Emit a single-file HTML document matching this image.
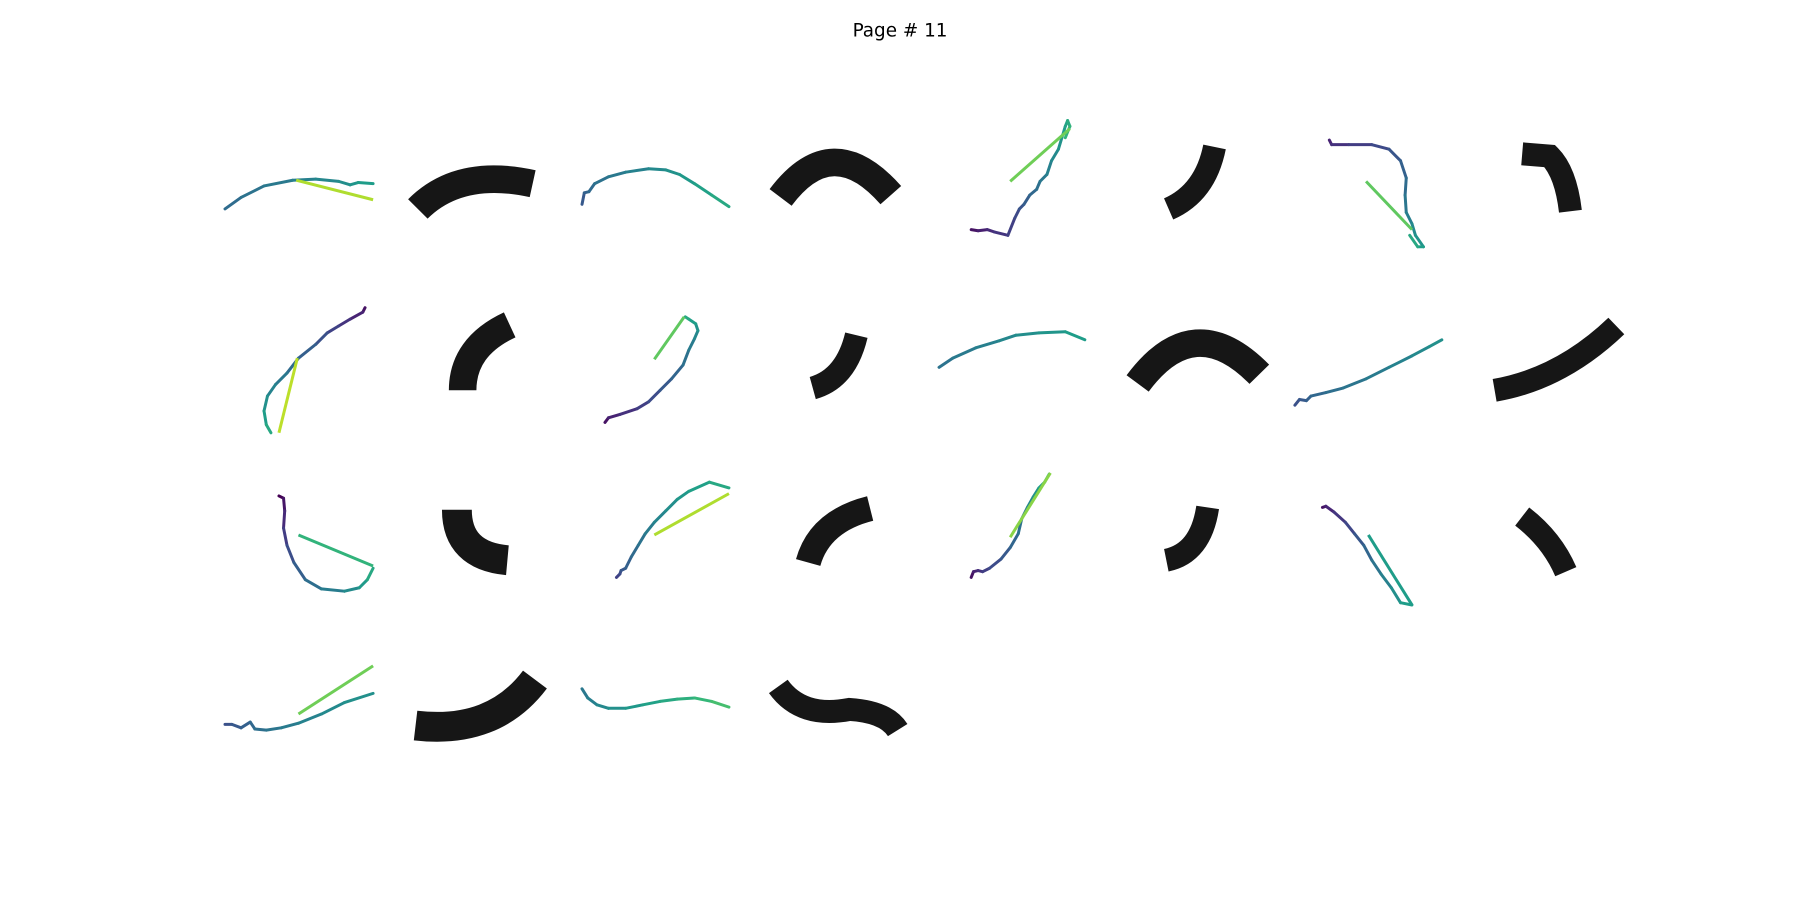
<!DOCTYPE html>
<html><head><meta charset="utf-8"><style>
html,body{margin:0;padding:0;background:#fff;}
svg{display:block;}
</style></head><body>
<svg id="fig" width="1800" height="900" viewBox="0 0 1568 784" xmlns="http://www.w3.org/2000/svg">
<rect width="1568" height="784" fill="#fff"/>
<text x="784" y="32" text-anchor="middle" font-family="DejaVu Sans, Liberation Sans, sans-serif" font-size="16" fill="#000">Page # 11</text>
<g id="lines"></g>
<g id="brush" fill="none" stroke="#161616" stroke-linecap="butt"></g>
</svg>
<script>
const strokePts = [
 [[196,182],[210,172],[230,162],[255,157],[275,156],[295,158],[305,161],[312,159],[325,160]],
 [[507,178],[509,168],[513,167],[518,160],[530,154],[545,150],[565,147],[580,148],[592,152],[605,160],[620,170],[635,180]],
 [[846,200],[852,201],[860,200],[866,202],[878,205],[884,190],[888,182],[892,178],[897,170],[903,165],[906,158],[912,152],[916,140],[922,130],[925,120],[928,110],[930,105],[932,110],[928,120]],
 [[1158,122],[1160,126],[1175,126],[1195,126],[1210,130],[1220,140],[1225,155],[1224,170],[1225,185],[1230,195],[1233,205],[1240,215],[1235,215],[1228,205]],
 [[318,268],[316,272],[305,278],[295,284],[285,290],[275,300],[260,312],[250,325],[240,335],[233,345],[230,358],[232,370],[236,377]],
 [[527,368],[530,364],[540,361],[555,356],[565,350],[575,340],[585,330],[595,318],[600,305],[605,295],[608,288],[606,282],[600,278],[597,276]],
 [[818,320],[830,312],[850,303],[870,297],[885,292],[905,290],[928,289],[945,296]],
 [[1128,353],[1132,348],[1138,349],[1142,345],[1155,342],[1170,338],[1190,330],[1210,320],[1230,310],[1245,302],[1256,296]],
 [[243,432],[247,434],[248,445],[247,460],[250,475],[256,490],[266,505],[280,513],[300,515],[313,512],[320,505],[325,495]],
 [[537,503],[540,500],[541,497],[545,495],[550,485],[556,475],[562,465],[570,455],[580,445],[590,435],[600,428],[618,420],[635,425]],
 [[846,503],[848,498],[852,497],[856,498],[862,495],[872,487],[880,477],[887,465],[890,452],[895,442],[900,433],[905,425],[910,420],[914,413]],
 [[1152,442],[1155,441],[1162,446],[1172,455],[1180,465],[1188,475],[1195,488],[1203,500],[1212,512],[1220,525],[1230,527]],
 [[196,631],[202,631],[210,634],[218,629],[222,635],[232,636],[245,634],[260,630],[280,622],[300,612],[325,604]],
 [[507,600],[512,608],[520,614],[530,617],[545,617],[560,614],[575,611],[590,609],[605,608],[620,611],[635,616]]
];
const strokeT0 = [0.35,0.28,0.05,0.1,0.05,0.05,0.38,0.25,0.0,0.2,0.05,0.05,0.25,0.4];
const strokeT1 = [0.55,0.6,0.65,0.6,0.6,0.6,0.55,0.5,0.6,0.6,0.6,0.55,0.5,0.7];
const closePts = [
 [[258,157],[325,174]], null, [[880,158],[932,112]], [[1190,158],[1230,200]],
 [[259,312],[243,377]], [[596,276],[570,313]], null, null,
 [[260,466],[325,493]], [[570,466],[635,430]], [[880,468],[915,412]], [[1192,466],[1230,527]],
 [[260,622],[325,580]], null
];
const closeT = [0.88,0,0.78,0.75,0.9,0.75,0,0,0.65,0.88,0.82,0.55,0.78,0];

const vir = [[68,1,84],[72,40,120],[62,73,137],[49,104,142],[38,130,142],[31,158,137],[53,183,121],[110,206,88],[181,222,43],[253,231,37]];
function viridis(t){
  t=Math.max(0,Math.min(1,t))*(vir.length-1);
  const i=Math.min(vir.length-2,Math.floor(t)),f=t-i;
  const c=vir[i].map((v,k)=>Math.round(v+(vir[i+1][k]-v)*f));
  return 'rgb('+c.join(',')+')';
}
const NS='http://www.w3.org/2000/svg';
const lines=document.getElementById('lines');
strokePts.forEach((pts,si)=>{
  const g=document.createElementNS(NS,'g');
  
  
  for(let i=0;i<pts.length-1;i++){
    const l=document.createElementNS(NS,'line');
    const t=strokeT0[si]+(strokeT1[si]-strokeT0[si])*i/(pts.length-2);
    l.setAttribute('x1',pts[i][0]);l.setAttribute('y1',pts[i][1]);
    l.setAttribute('x2',pts[i+1][0]);l.setAttribute('y2',pts[i+1][1]);
    l.setAttribute('stroke',viridis(t));l.setAttribute('stroke-width','2.6');
    l.setAttribute('stroke-linecap','round');
    
    
    g.appendChild(l);
  }
  const c=closePts[si];
  if(c){
    const l=document.createElementNS(NS,'line');
    l.setAttribute('x1',c[0][0]);l.setAttribute('y1',c[0][1]);
    l.setAttribute('x2',c[1][0]);l.setAttribute('y2',c[1][1]);
    l.setAttribute('stroke',viridis(closeT[si]));l.setAttribute('stroke-width','2.6');
    
    
    g.appendChild(l);
  }
  lines.appendChild(g);
});
const brushPaths = [
 'M364,182 Q400,146 464,160','M680,172 Q725,112 776,170','M1018,182 Q1050,168 1058,128','M1326,134 L1350,136 Q1364,150 1368,184',
 'M403,340 Q403,302 444,283','M708,338 Q737,330 746,292','M991,334 Q1040,268 1097,326','M1302,340 Q1360,330 1408,284',
 'M398,444 Q398,484 442,488','M704,490 Q714,454 758,443','M1016,488 Q1046,482 1052,442','M1326,450 Q1352,470 1364,498',
 'M362,632 Q430,640 466,592','M678,598 Q698,626 740,618 Q772,620 782,636'
];
const brushW = [24,24,20,20,24,20,24,20,26,22,20,20,26,20];
const brush=document.getElementById('brush');
brushPaths.forEach((d,i)=>{
  const p=document.createElementNS(NS,'path');
  p.setAttribute('d',d);p.setAttribute('stroke-width',brushW[i]);
  
  
  brush.appendChild(p);
});
</script>
</body></html>
